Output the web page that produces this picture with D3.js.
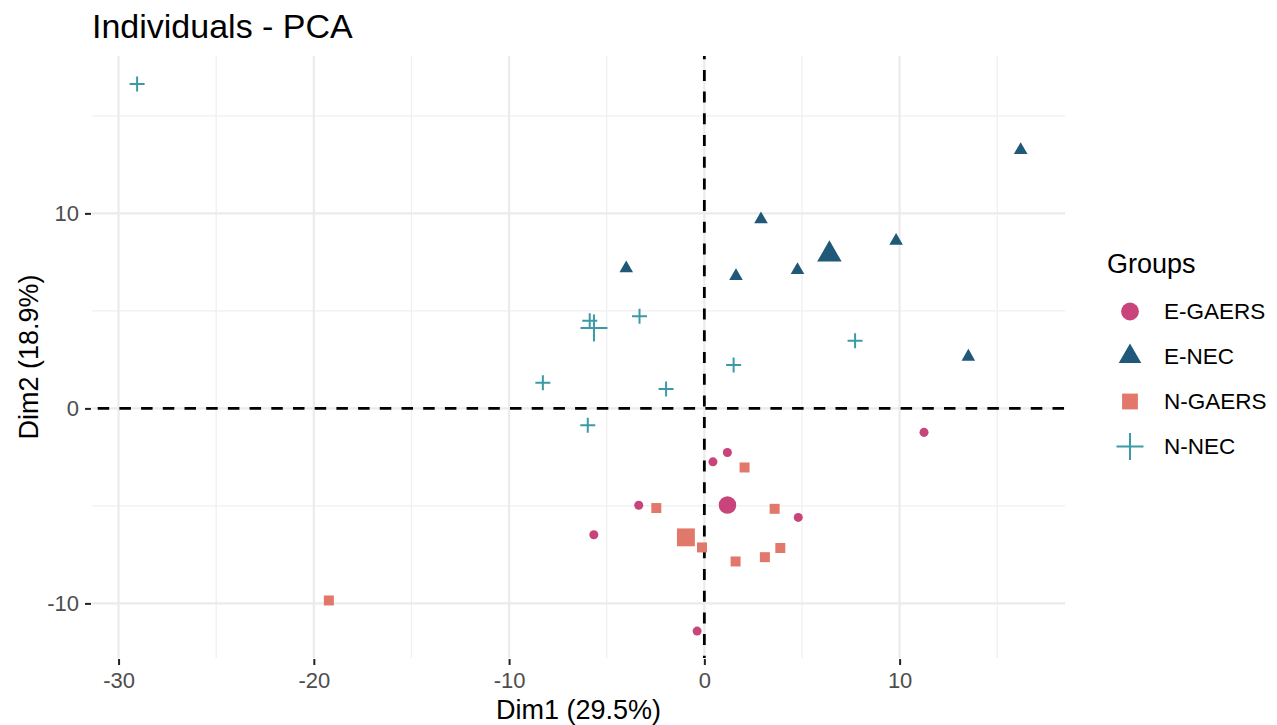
<!DOCTYPE html>
<html>
<head>
<meta charset="utf-8">
<script src="https://cdn.jsdelivr.net/npm/d3@7"></script>
<style>
  html, body { margin: 0; padding: 0; background: #fff; }
  svg { display: block; font-family: "Liberation Sans", Arial, Helvetica, sans-serif; }
</style>
</head>
<body>
<svg id="chart" width="1277" height="725"></svg>
<script>
// PCA individuals: [Dim1, Dim2] per sample, grouped; each group also gets a larger mean point.
const groups = ["E-GAERS", "E-NEC", "N-GAERS", "N-NEC"];
const groupColors = ["#C9447A", "#1F5878", "#E2786C", "#3A9BA6"];

const eGaers = [[1.18, -2.26], [0.44, -2.74], [-3.36, -4.97], [-5.66, -6.48], [4.81, -5.59], [-0.37, -11.42], [11.25, -1.23]];
const eNec = [[-4.0, 7.18], [1.62, 6.78], [2.90, 9.69], [4.77, 7.09], [9.82, 8.59], [16.2, 13.25], [13.52, 2.65]];
const nGaers = [[2.06, -3.03], [-2.46, -5.11], [3.60, -5.15], [-0.12, -7.13], [3.89, -7.16], [3.10, -7.63], [1.60, -7.85], [-19.23, -9.85]];
const nNec = [[-29.05, 16.63], [-5.87, 4.49], [-3.32, 4.73], [-8.27, 1.31], [-1.96, 0.99], [1.50, 2.23], [-5.97, -0.86], [7.72, 3.47]];

const groupPoints = [eGaers, eNec, nGaers, nNec];

const xTicks = [-30, -20, -10, 0, 10];
const yTicks = [-10, 0, 10];
const xMinor = [-25, -15, -5, 5, 15];
const yMinor = [-5, 5, 15];

const svg = d3.select("#chart");
const panel = { left: 92, right: 1065, top: 56, bottom: 658 };

const x = d3.scaleLinear().domain([-31.36, 18.47]).range([panel.left, panel.right]);
const y = d3.scaleLinear().domain([-12.8, 18.07]).range([panel.bottom, panel.top]);

// grid
const grid = svg.append("g");
grid.selectAll(".vminor").data(xMinor).enter().append("line")
  .attr("x1", d => x(d)).attr("x2", d => x(d))
  .attr("y1", panel.top).attr("y2", panel.bottom)
  .attr("stroke", "#EFEFEF").attr("stroke-width", 1.2);
grid.selectAll(".hminor").data(yMinor).enter().append("line")
  .attr("y1", d => y(d)).attr("y2", d => y(d))
  .attr("x1", panel.left).attr("x2", panel.right)
  .attr("stroke", "#EFEFEF").attr("stroke-width", 1.2);
grid.selectAll(".vmajor").data(xTicks).enter().append("line")
  .attr("x1", d => x(d)).attr("x2", d => x(d))
  .attr("y1", panel.top).attr("y2", panel.bottom)
  .attr("stroke", "#EBEBEB").attr("stroke-width", 2.2);
grid.selectAll(".hmajor").data(yTicks).enter().append("line")
  .attr("y1", d => y(d)).attr("y2", d => y(d))
  .attr("x1", panel.left).attr("x2", panel.right)
  .attr("stroke", "#EBEBEB").attr("stroke-width", 2.2);

// axes (plain hyphen-minus for negative labels)
const fmt = d => String(d);
const xAxis = d3.axisBottom(x).tickValues(xTicks).tickSize(6).tickPadding(7).tickFormat(fmt);
const yAxis = d3.axisLeft(y).tickValues(yTicks).tickSize(6).tickPadding(6).tickFormat(fmt);

const gx = svg.append("g").attr("transform", `translate(0,${panel.bottom + 1})`).call(xAxis);
const gy = svg.append("g").attr("transform", `translate(${panel.left - 1},0)`).call(yAxis);
[gx, gy].forEach(g => {
  g.attr("font-size", null).attr("font-family", null);
  g.select(".domain").remove();
  g.selectAll(".tick line").attr("stroke", "#222").attr("stroke-width", 2);
  g.selectAll(".tick text").attr("fill", "#4D4D4D").style("font-size", "22px")
    .style("font-family", "'Liberation Sans', Arial, sans-serif");
});

// reference lines at the origin
svg.append("line")
  .attr("x1", x(0)).attr("x2", x(0)).attr("y1", panel.top).attr("y2", panel.bottom)
  .attr("stroke", "#000").attr("stroke-width", 2.8)
  .attr("stroke-dasharray", "11,10.7").attr("stroke-dashoffset", 7.8);
svg.append("line")
  .attr("y1", y(0)).attr("y2", y(0)).attr("x1", panel.left).attr("x2", panel.right)
  .attr("stroke", "#000").attr("stroke-width", 2.8)
  .attr("stroke-dasharray", "11.5,10.2").attr("stroke-dashoffset", 16);

// marker shapes: circle, triangle, square, plus
const shapes = [d3.symbolCircle, d3.symbolTriangle, d3.symbolSquare, null];
const smallSizes = [64, 80, 100, 15];
const bigSizes = [240, 260, 320, 27];
const legendSizes = [250, 220, 250, 27];

function drawMarker(g, gi, size) {
  const color = groupColors[gi];
  if (shapes[gi] === null) {
    const half = size / 2;
    g.append("path")
      .attr("d", `M${-half},0H${half}M0,${-half}V${half}`)
      .attr("stroke", color).attr("stroke-width", 2).attr("fill", "none");
  } else {
    g.append("path")
      .attr("d", d3.symbol().type(shapes[gi]).size(size)())
      .attr("fill", color);
  }
}

// individuals and group mean points
const marks = svg.append("g");
groupPoints.forEach((pts, gi) => {
  pts.forEach(p => {
    const g = marks.append("g").attr("transform", `translate(${x(p[0])},${y(p[1])})`);
    drawMarker(g, gi, smallSizes[gi]);
  });
  const mx = d3.mean(pts, p => p[0]);
  const my = d3.mean(pts, p => p[1]);
  const g = marks.append("g").attr("transform", `translate(${x(mx)},${y(my)})`);
  drawMarker(g, gi, bigSizes[gi]);
});

// titles
svg.append("text").attr("x", 92).attr("y", 38)
  .style("font-size", "34px").attr("fill", "#000").text("Individuals - PCA");
svg.append("text").attr("x", (panel.left + panel.right) / 2).attr("y", 719)
  .attr("text-anchor", "middle").style("font-size", "27px").attr("fill", "#000").text("Dim1 (29.5%)");
svg.append("text")
  .attr("transform", `translate(37.5,${(panel.top + panel.bottom) / 2}) rotate(-90)`)
  .attr("text-anchor", "middle").style("font-size", "27px").attr("fill", "#000").text("Dim2 (18.9%)");

// legend
const legend = svg.append("g");
legend.append("text").attr("x", 1107).attr("y", 273)
  .style("font-size", "27px").attr("fill", "#000").text("Groups");
groups.forEach((name, gi) => {
  const cy = 311.5 + gi * 45;
  const g = legend.append("g").attr("transform", `translate(1130,${cy})`);
  drawMarker(g, gi, legendSizes[gi]);
  legend.append("text").attr("x", 1164).attr("y", cy + 7.5)
    .style("font-size", "22.5px").attr("fill", "#000").text(name);
});
</script>
</body>
</html>
